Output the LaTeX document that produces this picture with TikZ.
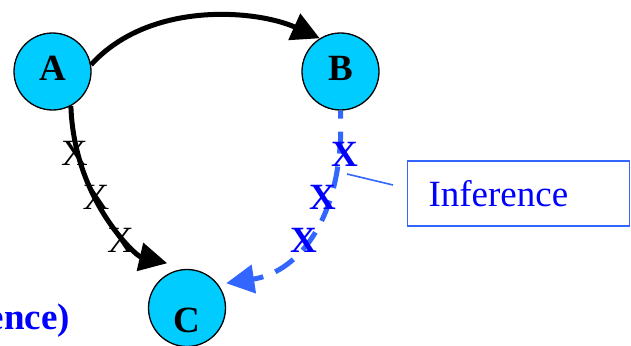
\documentclass[tikz,border=0pt]{standalone}
\usepackage{fontspec}
\setmainfont{Liberation Serif}
\usepackage{xcolor}
\usetikzlibrary{arrows.meta}
\definecolor{nodecyan}{HTML}{00CCFF}
\definecolor{infblue}{HTML}{3366FF}
\definecolor{textblue}{HTML}{0000FF}

\begin{document}
\begin{tikzpicture}[
    x=1pt, y=-1pt,
    state/.style={circle, draw=black, line width=1.3pt, fill=nodecyan, minimum size=77pt, inner sep=0pt, text depth=7pt, font=\fontsize{37}{40}\selectfont\bfseries},
    letter/.style={inner sep=0pt, font=\fontsize{37}{40}\selectfont\bfseries},
    flow/.style={line width=5pt, -{Triangle[length=28pt,width=28pt]}},
    inferflow/.style={flow, draw=infblue, dash pattern=on 22pt off 13pt, dash phase=14pt},
    plainx/.style={inner sep=0pt, font=\fontsize{37}{40}\selectfont},
    inferx/.style={inner sep=0pt, text=textblue, font=\fontsize{37}{40}\selectfont\bfseries},
    infobox/.style={draw=infblue, line width=1.8pt, minimum height=65pt, text width=180pt, inner xsep=21pt, align=left, text=textblue, font=\fontsize{37}{40}\selectfont},
    callout/.style={draw=infblue, line width=1.6pt},
    note/.style={inner sep=0pt, text=textblue, font=\fontsize{37}{40}\selectfont\bfseries}
]
\useasboundingbox (0,0) rectangle (631,345);

\node[state] (A) at (52.5,71.5) {A};
\node[state] (B) at (340.5,71.5) {B};
\node[state] (C) at (187,308) {};
\node[letter] (clabel) at (187,320) {C};

\node[plainx] (ax1) at (74.5,153.5) {X};
\node[plainx] (ax2) at (96,197) {X};
\node[plainx] (ax3) at (120.5,240) {X};

\draw[flow] (A.10) .. controls (150,0) and (257,10) .. (B.122);
\draw[flow, shorten >=28pt] (A.-62) .. controls (74,200) and (136,256) .. (C.79);
\draw[inferflow, shorten >=8pt] (B.270) .. controls (345,215) and (300,272) .. (C.37);

\node[inferx] (bx1) at (344.5,154.5) {X};
\node[inferx] (bx2) at (323,197.5) {X};
\node[inferx] (bx3) at (304,240.5) {X};

\node[infobox] (inf) at (518.5,193.5) {Inference};
\coordinate (calltip) at (347,174);
\coordinate (calltail) at (393,185);
\draw[callout] (calltail) -- (calltip);

\node[note, anchor=base east] (partial) at (70,329) {ence)};
\end{tikzpicture}
\end{document}
